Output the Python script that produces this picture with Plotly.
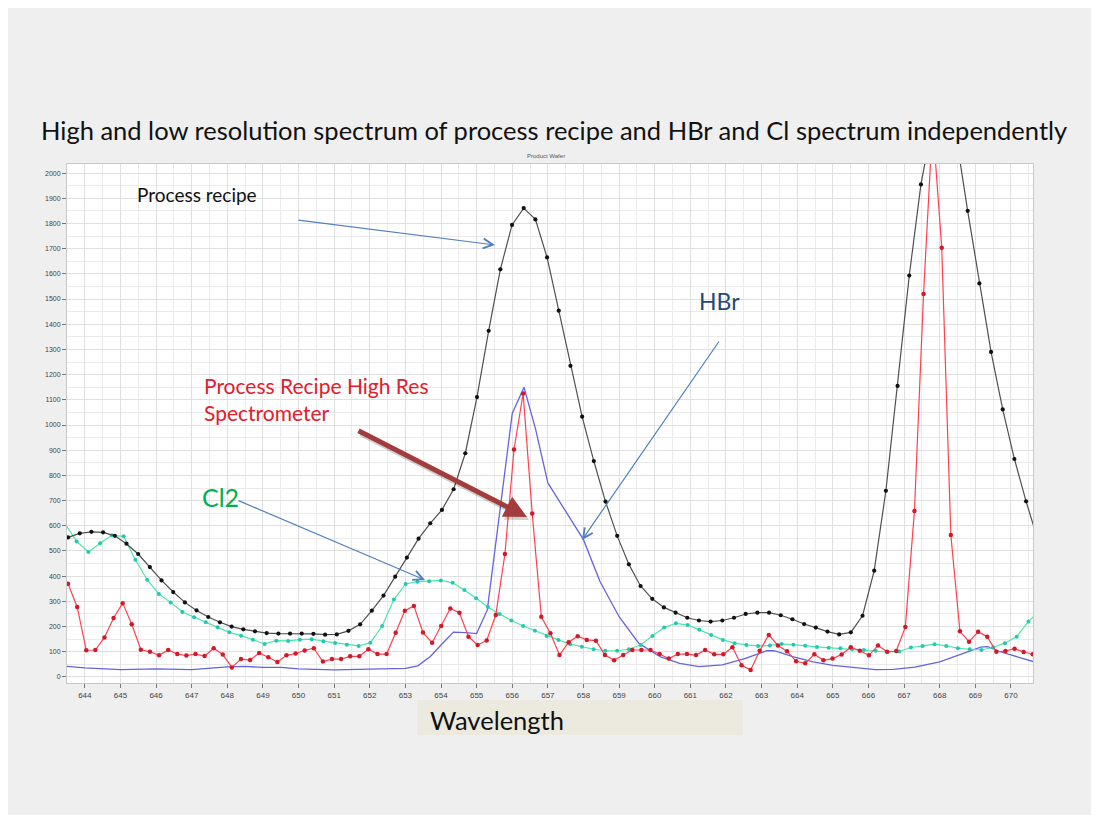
import numpy as np
import plotly.graph_objects as go

# ---------------- data ----------------
# Process recipe (low resolution), uniform wavelength sampling
recipe_start, recipe_step = 643.53, 0.328
recipe_vals = [554, 570, 576, 574, 560, 529, 488, 436, 383, 337, 296, 264, 238, 217, 200, 189,
               181, 174, 172, 172, 172, 171, 168, 169, 183, 209, 263, 323, 398, 474, 549, 610,
               663, 745, 888, 1111, 1374, 1618, 1794, 1861, 1816, 1665, 1454, 1235, 1033, 857,
               696, 560, 447, 361, 310, 276, 255, 235, 224, 220, 224, 235, 250, 255, 255, 245,
               229, 210, 196, 180, 169, 177, 243, 422, 739, 1155, 1593, 1955, 2200, 2350, 2150,
               1850, 1562, 1290, 1062, 865, 697, 545]

# Process recipe, high resolution spectrometer
highres_start, highres_step = 643.53, 0.2555
highres_vals = [370, 278, 106, 107, 157, 234, 293, 209, 108, 100, 86, 107, 91, 85, 91, 83,
                114, 89, 38, 71, 67, 95, 78, 59, 86, 93, 105, 114, 61, 71, 71, 82,
                82, 110, 91, 91, 175, 263, 282, 176, 136, 202, 272, 255, 160, 127, 145, 246,
                488, 903, 1125, 649, 239, 173, 87, 138, 162, 147, 144, 87, 66, 87,
                107, 107, 107, 91, 73, 91, 91, 87, 107, 90, 90, 118, 46, 28, 104, 167,
                125, 102, 62, 54, 90, 66, 73, 89, 118, 104, 86, 125, 100, 103, 198, 659,
                1520, 2200, 1704, 563, 181, 140, 179, 160, 100, 103, 112, 99, 90]

# Cl2 spectrum
cl2_start, cl2_step = 643.44, 0.3299
cl2_vals = [610, 538, 496, 531, 562, 558, 465, 386, 329, 296, 258, 237, 217, 197, 177, 164,
            148, 131, 144, 143, 148, 150, 142, 135, 128, 123, 136, 202, 307, 369, 378, 380,
            383, 374, 345, 312, 278, 250, 224, 202, 183, 163, 147, 130, 120, 110, 104, 104,
            110, 127, 163, 196, 213, 206, 187, 167, 147, 134, 127, 123, 125, 131, 128, 124,
            119, 116, 114, 110, 107, 104, 99, 101, 117, 123, 130, 123, 114, 110, 107, 118,
            134, 160, 220, 265]

# HBr spectrum (no markers)
hbr_wl = [643.5, 644.0, 645.0, 646.0, 647.0, 648.0, 648.5, 649.0, 649.5, 650.0, 651.0, 652.0,
          653.0, 653.35, 653.7, 654.0, 654.35, 654.7, 655.0, 655.3, 655.7, 656.0, 656.33,
          656.65, 657.0, 657.5, 658.0, 658.46, 659.0, 659.55, 660.15, 660.7, 661.25, 661.9,
          662.55, 663.15, 663.35, 663.9, 664.45, 665.0, 665.6, 666.2, 666.7, 667.3, 668.0,
          668.6, 669.15, 669.35, 669.7, 670.25, 670.63]
hbr_vals = [42, 36, 29, 32, 29, 40, 42, 38, 38, 32, 28, 30,
            34, 44, 81, 127, 178, 176, 172, 266, 700, 1046, 1150,
            987, 770, 660, 545, 380, 239, 134, 81, 54, 41, 48,
            74, 104, 104, 80, 60, 46, 36, 29, 30, 39, 60,
            90, 118, 120, 100, 77, 61]

x_ticks = list(range(644, 671))
y_ticks = list(range(0, 2001, 100))

recipe_wl = recipe_start + recipe_step * np.arange(len(recipe_vals))
highres_wl = highres_start + highres_step * np.arange(len(highres_vals))
cl2_wl = cl2_start + cl2_step * np.arange(len(cl2_vals))

# ---------------- layout geometry ----------------
W, H = 1099, 823
L, R, T, B = 67, 1033, 164, 683
PW, PH = R - L, B - T


def px(x):
    return (x - L) / PW


def py(y):
    return (B - y) / PH


FONT = "Lato"

fig = go.Figure()

fig.add_trace(go.Scatter(x=hbr_wl, y=hbr_vals, mode="lines", name="HBr",
                         line=dict(color="#6464e0", width=1.3)))
fig.add_trace(go.Scatter(x=cl2_wl, y=cl2_vals, mode="lines+markers", name="Cl2",
                         line=dict(color="#4ee6a4", width=1.2),
                         marker=dict(color="#22c8b4", size=4)))
fig.add_trace(go.Scatter(x=highres_wl, y=highres_vals, mode="lines+markers", name="High Res",
                         line=dict(color="#ff4050", width=1.2),
                         marker=dict(color="#d01a2a", size=4.5)))
fig.add_trace(go.Scatter(x=recipe_wl, y=recipe_vals, mode="lines+markers", name="Process recipe",
                         line=dict(color="#505050", width=1.2),
                         marker=dict(color="#111111", size=4.2)))

shapes = [
    # slide background
    dict(type="rect", xref="paper", yref="paper", x0=px(8), x1=px(1091), y0=py(815), y1=py(8),
         fillcolor="#efefef", line=dict(width=0), layer="below"),
    # plot background
    dict(type="rect", xref="paper", yref="paper", x0=0, x1=1, y0=0, y1=1,
         fillcolor="#ffffff", line=dict(width=0), layer="below"),
    # Wavelength box
    dict(type="rect", xref="paper", yref="paper", x0=px(417), x1=px(743), y0=py(735), y1=py(700),
         fillcolor="#eceadf", line=dict(width=0), layer="below"),
]

annotations = [
    dict(text="High and low resolution spectrum of process recipe and HBr and Cl spectrum independently",
         x=px(554), y=py(130), font=dict(size=25.5, color="#111111", family=FONT)),
    dict(text="Product Wafer", x=px(546), y=py(156), font=dict(size=6, color="#555555", family="Liberation Sans")),
    dict(text="Process recipe", x=px(135), y=py(194), xanchor="left",
         font=dict(size=19, color="#111111", family=FONT)),
    dict(text="HBr", x=px(697), y=py(301), xanchor="left",
         font=dict(size=23, color="#1f497d", family=FONT)),
    dict(text="Process Recipe High Res", x=px(202), y=py(385), xanchor="left",
         font=dict(size=21, color="#e0202c", family=FONT)),
    dict(text="Spectrometer", x=px(202), y=py(412), xanchor="left",
         font=dict(size=21, color="#e0202c", family=FONT)),
    dict(text="Cl2", x=px(200), y=py(497), xanchor="left",
         font=dict(size=25, color="#00b050", family=FONT)),
    dict(text="Wavelength", x=px(428), y=py(720), xanchor="left",
         font=dict(size=25.5, color="#111111", family=FONT)),
]
for a in annotations:
    a.update(xref="paper", yref="paper", showarrow=False, yanchor="middle")
    a.setdefault("xanchor", "center")


def arrow(tail, tip, color, width, head, size):
    return dict(text="", xref="paper", yref="paper", x=px(tip[0]), y=py(tip[1]),
                ax=tail[0] - tip[0], ay=tail[1] - tip[1], showarrow=True,
                arrowhead=head, arrowsize=size, arrowwidth=width, arrowcolor=color,
                standoff=0, startstandoff=0)


annotations += [
    arrow((297, 220), (495, 245), "#4f81bd", 1.2, 5, 1.6),
    arrow((720, 340), (582, 540), "#4f81bd", 1.2, 5, 1.6),
    arrow((237, 500), (425, 580), "#4f81bd", 1.2, 5, 1.6),
    arrow((359, 433), (529, 520), "rgba(0,0,0,0.18)", 5, 2, 0.9),
    arrow((357, 430), (527, 517), "#a33c3c", 5, 2, 0.9),
]

fig.update_layout(
    width=W, height=H, autosize=False,
    margin=dict(l=L, r=W - R, t=T, b=H - B),
    paper_bgcolor="#ffffff", plot_bgcolor="rgba(0,0,0,0)",
    showlegend=False,
    shapes=shapes, annotations=annotations,
    xaxis=dict(range=[643.5, 670.62], tickmode="array", tickvals=x_ticks,
               ticktext=[str(t) for t in x_ticks],
               showgrid=True, gridcolor="#e0e0e0", gridwidth=1,
               minor=dict(dtick=0.5, showgrid=True, gridcolor="#ebebeb", gridwidth=1),
               ticks="outside", ticklen=4, tickcolor="#777777",
               tickfont=dict(size=8, color="#444444", family="Liberation Sans"),
               showline=True, linecolor="#c8c8c8", mirror=True, zeroline=False),
    yaxis=dict(range=[-24, 2036], tickmode="array", tickvals=y_ticks,
               ticktext=[str(t) for t in y_ticks],
               showgrid=True, gridcolor="#e0e0e0", gridwidth=1,
               minor=dict(dtick=50, showgrid=True, gridcolor="#ebebeb", gridwidth=1),
               ticks="outside", ticklen=4, tickcolor="#777777",
               tickfont=dict(size=7, color="#444444", family="Liberation Sans"),
               showline=True, linecolor="#c8c8c8", mirror=True, zeroline=False),
)

fig.write_html("out.html")
